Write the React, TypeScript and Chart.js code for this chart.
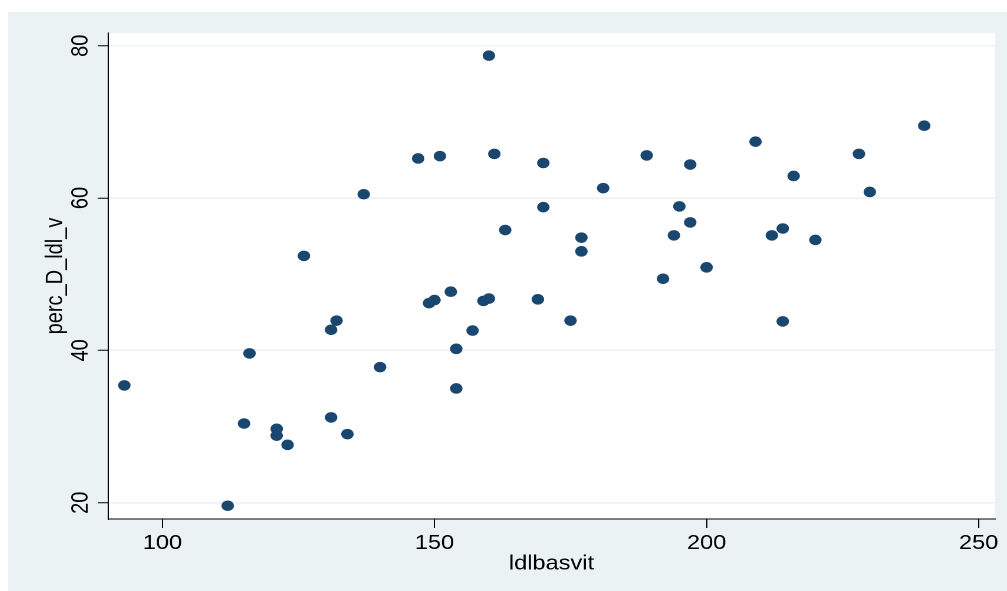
import { useEffect, useRef } from 'react';
import { Chart, registerables } from 'chart.js';

Chart.register(...registerables);

// Baseline LDL (x) against percentage change in LDL (y), one entry per subject
const ldlbasvit = [
  93, 112, 115, 116, 121, 121, 123, 131, 131, 132,
  126, 134, 137, 140, 147, 151, 160, 161, 170, 181,
  189, 170, 163, 177, 177, 192, 194, 153, 149, 150,
  159, 160, 169, 175, 157, 154, 154, 197, 209, 228,
  240, 216, 230, 195, 197, 212, 214, 220, 200, 214,
];
const percDLdlV = [
  35.4, 19.6, 30.4, 39.6, 29.7, 28.8, 27.6, 31.2, 42.7, 43.9,
  52.4, 29.0, 60.5, 37.8, 65.2, 65.5, 78.7, 65.8, 64.6, 61.3,
  65.6, 58.8, 55.8, 54.8, 53.0, 49.4, 55.1, 47.7, 46.2, 46.6,
  46.5, 46.8, 46.7, 43.9, 42.6, 40.2, 35.0, 64.4, 67.4, 65.8,
  69.5, 62.9, 60.8, 58.9, 56.8, 55.1, 56.0, 54.5, 50.9, 43.8,
];

const xTicks = [100, 150, 200, 250];
const yTicks = [20, 40, 60, 80];
const xRange = [90, 253];
const yRange = [17.86, 81.67];

const BG = '#EAF2F3';
const MARKER = '#1A476F';
const FONT = "'Liberation Sans', Arial, Helvetica, sans-serif";

const W = 847;
const H = 579;
const STRETCH = 999 / W;

const plotBackground = {
  id: 'plotBackground',
  beforeDraw(chart: any) {
    const { ctx, chartArea } = chart;
    ctx.save();
    ctx.fillStyle = '#ffffff';
    ctx.fillRect(chartArea.left, chartArea.top, chartArea.right - chartArea.left, chartArea.bottom - chartArea.top);
    ctx.restore();
  },
};

export default function App() {
  const canvasRef = useRef<HTMLCanvasElement | null>(null);

  useEffect(() => {
    if (!canvasRef.current) return;
    const points = ldlbasvit.map((x, i) => ({ x, y: percDLdlV[i] }));
    const chart = new Chart(canvasRef.current, {
      type: 'scatter',
      data: {
        datasets: [
          {
            data: points,
            backgroundColor: MARKER,
            borderColor: MARKER,
            borderWidth: 0,
            pointRadius: 5.3,
            pointHoverRadius: 5.3,
          },
        ],
      },
      plugins: [plotBackground],
      options: {
        animation: false,
        responsive: false,
        devicePixelRatio: 2,
        events: [],
        layout: { padding: { top: 21, right: 10.2, left: 0, bottom: 0 } },
        plugins: {
          legend: { display: false },
          tooltip: { enabled: false },
        },
        scales: {
          x: {
            type: 'linear',
            min: xRange[0],
            max: xRange[1],
            afterBuildTicks: (scale: any) => {
              scale.ticks = xTicks.map((v) => ({ value: v }));
            },
            afterFit: (scale: any) => {
              scale.height = 72;
            },
            grid: {
              drawOnChartArea: false,
              drawTicks: true,
              tickLength: 9,
              tickColor: '#000',
              tickWidth: 1,
            },
            border: { display: true, color: '#000', width: 1 },
            ticks: {
              autoSkip: false,
              maxRotation: 0,
              minRotation: 0,
              padding: 3.5,
              color: '#000',
              font: { family: FONT, size: 20 },
            },
            title: {
              display: true,
              text: 'ldlbasvit',
              color: '#000',
              font: { family: FONT, size: 20 },
              padding: { top: 0, bottom: 15.2 },
            },
          },
          y: {
            type: 'linear',
            min: yRange[0],
            max: yRange[1],
            afterBuildTicks: (scale: any) => {
              scale.ticks = yTicks.map((v) => ({ value: v }));
            },
            afterFit: (scale: any) => {
              scale.width = 84.8;
            },
            grid: {
              color: BG,
              lineWidth: 1.5,
              drawTicks: true,
              tickLength: 8.5,
              tickColor: '#000',
              tickWidth: 1,
            },
            border: { display: true, color: '#000', width: 1 },
            ticks: {
              autoSkip: false,
              minRotation: 90,
              maxRotation: 90,
              crossAlign: 'center',
              padding: 3.3,
              color: '#000',
              font: { family: FONT, size: 20 },
            },
            title: {
              display: true,
              text: 'perc_D_ldl_v',
              color: '#000',
              font: { family: FONT, size: 20 },
              padding: { top: 28.7, bottom: 0 },
            },
          },
        },
      } as any,
    });
    return () => chart.destroy();
  }, []);

  return (
    <div
      style={{
        position: 'fixed',
        left: 8,
        top: 12,
        width: 999,
        height: H,
        background: BG,
        overflow: 'hidden',
      }}
    >
      <div style={{ width: W, height: H, transform: `scaleX(${STRETCH})`, transformOrigin: '0 0' }}>
        <canvas ref={canvasRef} width={W} height={H} style={{ width: W, height: H, display: 'block' }} />
      </div>
    </div>
  );
}
